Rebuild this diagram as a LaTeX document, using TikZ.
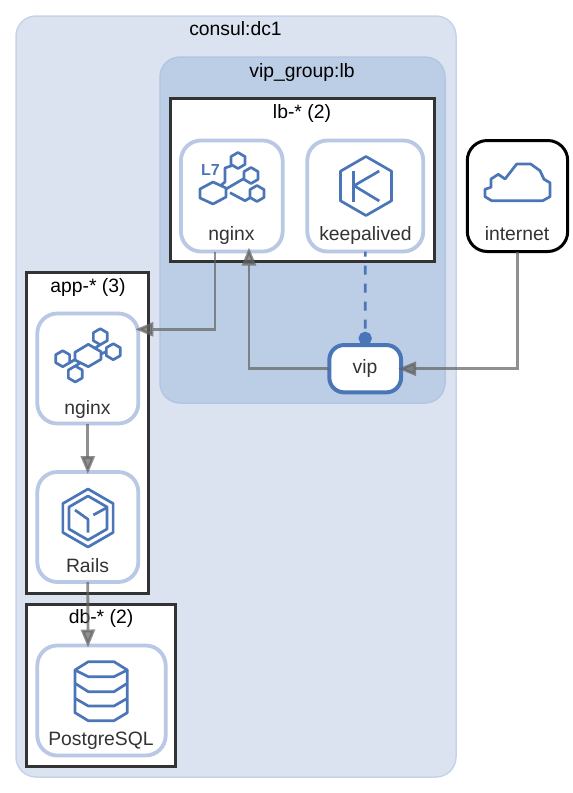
\documentclass[tikz,border=0pt]{standalone}
\usepackage{fontspec}
\setmainfont{Liberation Sans}
\usetikzlibrary{arrows.meta}
\definecolor{cconsul}{HTML}{DBE3F0}
\definecolor{cconsulb}{HTML}{C6D4EA}
\definecolor{cgroup}{HTML}{BCCDE6}
\definecolor{cgroupb}{HTML}{B2C5E3}
\definecolor{cservice}{HTML}{B8C8E5}
\definecolor{cblue}{HTML}{4A76B8}
\definecolor{cdark}{HTML}{333333}
\def\px{0.75pt}
\newcommand{\hexicon}[3]{\draw[icon] (#1,#2) ++(30:#3) -- ++(150:#3) -- ++(210:#3) -- ++(270:#3) -- ++(330:#3) -- ++(30:#3) -- cycle;}
\tikzset{
  cluster/.style={draw=cdark, line width=3*\px, fill=white, outer sep=0pt, inner sep=0pt},
  region/.style={rounded corners=15pt, line width=1.5*\px, outer sep=0pt, inner sep=0pt},
  service/.style={draw=cservice, line width=3.8*\px, fill=white, rounded corners=15pt, outer sep=0pt, inner sep=0pt},
  title/.style={font=\fontsize{14.5}{16}\selectfont, text=black, inner sep=0pt, anchor=base},
  label/.style={font=\fontsize{14.5}{16}\selectfont, text=cdark, inner sep=0pt, anchor=base},
  icon/.style={draw=cblue, line width=2.7*\px, line join=round},
  link/.style={draw=black!62, opacity=0.7, line width=2.8*\px, -{Triangle[length=13.5pt,width=10.5pt]}},
}

\begin{document}
\begin{tikzpicture}[x=\px, y=-\px]
  \useasboundingbox (0,0) rectangle (573,793);

  % regions and clusters
  \node[region, draw=cconsulb, fill=cconsul, minimum width=440*\px, minimum height=761*\px] (consul) at (236,396.5) {};
  \node[region, draw=cgroupb, fill=cgroup, minimum width=285*\px, minimum height=346*\px] (vipgroup) at (302.5,230) {};
  \node[cluster, minimum width=264*\px, minimum height=163*\px] (lb) at (302.5,180) {};
  \node[cluster, minimum width=122.5*\px, minimum height=321*\px] (app) at (87.7,433) {};
  \node[cluster, minimum width=149*\px, minimum height=162*\px] (db) at (101.3,685.5) {};

  \node[title] (consultitle) at (235.5,35) {consul:dc1};
  \node[title] (vipgrouptitle) at (302,77) {vip\_group:lb};
  \node[title] (lbtitle) at (302,118) {lb-* (2)};
  \node[title] (apptitle) at (88,292) {app-* (3)};
  \node[title] (dbtitle) at (101,623) {db-* (2)};

  % services
  \node[service, minimum width=101.7*\px, minimum height=111*\px] (lbnginx) at (231.8,196) {};
  \node[service, minimum width=116*\px, minimum height=111*\px] (keepalived) at (365.3,196) {};
  \node[service, draw=black, line width=3*\px, minimum width=100.4*\px, minimum height=111*\px] (internet) at (517.5,196) {};
  \node[service, draw=cblue, line width=4*\px, rounded corners=11pt, minimum width=71.7*\px, minimum height=47.3*\px] (vip) at (365.2,368.7) {};
  \node[service, minimum width=101*\px, minimum height=110*\px] (appnginx) at (87.8,368.5) {};
  \node[service, minimum width=101*\px, minimum height=110*\px] (rails) at (87.8,527) {};
  \node[service, minimum width=128.4*\px, minimum height=110*\px] (postgres) at (101.5,700.5) {};

  \node[label] (lbnginxlabel) at (231.5,240) {nginx};
  \node[label] (keepalivedlabel) at (365.5,240) {keepalived};
  \node[label] (internetlabel) at (517,240) {internet};
  \node[label] (viplabel) at (365,373) {vip};
  \node[label] (appnginxlabel) at (87.5,414) {nginx};
  \node[label] (railslabel) at (87.5,572) {Rails};
  \node[label] (postgreslabel) at (101,745) {PostgreSQL};

  % icon L7 nginx
  \node[font=\fontsize{12}{14}\selectfont\bfseries, text=cblue, inner sep=0pt, anchor=base] (lseven) at (210.5,175) {L7};
  \draw[icon] (213,182) -- (200,189) -- (200,198) -- (213,204) -- (226,197) -- (226,188) -- cycle;
  \hexicon{238}{160.5}{8}
  \hexicon{251}{175.5}{8}
  \hexicon{257}{193.5}{8}
  \draw[icon] (231.7,165.7) -- (225,168) -- (225,182) -- (220,186);
  \draw[icon] (226,189) -- (244,178.5);
  \draw[icon] (230,192.7) -- (245,200.7) -- (250.5,197.5);

  % icon keepalived
  \hexicon{366}{186}{29.5}
  \draw[icon] (353.7,171) -- (353.7,201.7);
  \draw[icon] (379.3,171) -- (354,185.7) -- (379.3,201);

  % icon cloud
  \draw[icon] (485,189.3) -- (491,187.3) -- (491,179) -- (498.3,174.3) -- (505,179)
    -- (516.7,164) -- (530.7,164) -- (540,170.7) -- (544,179.3) -- (550,182.7)
    -- (550,196.7) -- (542.7,200.7) -- (491.7,200.7) -- (485,196.7) -- cycle;

  % icon app nginx
  \draw[icon] (88.3,344.3) -- (75,352.3) -- (75,360) -- (88.3,366.7) -- (101,359.3) -- (101,351.7) -- cycle;
  \hexicon{100.3}{336.7}{8}
  \hexicon{113.3}{351.7}{8}
  \hexicon{62.7}{358.7}{8}
  \hexicon{75.3}{374}{8}
  \draw[icon] (100.3,344.7) -- (95,348);
  \draw[icon] (101,354) -- (106,351.7);
  \draw[icon] (69.7,362.7) -- (76,359);
  \draw[icon] (75.3,366) -- (80,363);

  % icon rails
  \hexicon{88}{518}{29}
  \hexicon{88}{518}{22}
  \draw[icon] (75,510) -- (88,519.3) -- (88,532.7);
  \draw[icon] (93.3,515) -- (106.7,507.7);

  % icon postgres
  \draw[icon] (75,670) -- (88.3,661.7) -- (114,661.7) -- (127.3,670) -- (114,676.7) -- (88.3,676.7) -- cycle;
  \draw[icon] (75,670) -- (75,712.7) -- (88.3,720.7) -- (114,720.7) -- (127.3,712.7) -- (127.3,670);
  \draw[icon] (75,683.3) -- (88.3,691.7) -- (114,691.7) -- (127.3,683.3);
  \draw[icon] (75,698.3) -- (88.3,706) -- (114,706) -- (127.3,698.3);

  % connectors
  \draw[link] ([xshift=-16.8*\px]lbnginx.south) |- ([yshift=29.4pt,xshift=-3*\px]appnginx.east);
  \draw[link] (vip.west) -| ([xshift=17.2*\px,yshift=4*\px]lbnginx.south);
  \draw[link] (internet.south) |- ([xshift=-3*\px]vip.east);
  \draw[link] (appnginx.south) -- ([yshift=-2*\px]rails.north);
  \draw[link] (rails.south) -- ([xshift=-13.5*\px,yshift=-2*\px]postgres.north);
  \draw[draw=cblue, line width=2.6*\px, dash pattern=on 6.75pt off 6.75pt, dash phase=3pt, -{Circle[length=10pt,width=10pt,fill=cblue]}] (keepalived.south) -- (vip.north);
\end{tikzpicture}
\end{document}
